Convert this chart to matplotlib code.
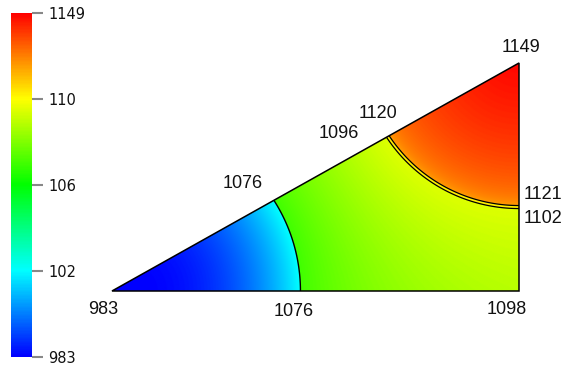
import numpy as np
import matplotlib
matplotlib.use("Agg")
import matplotlib.pyplot as plt
from matplotlib.colors import LinearSegmentedColormap, Normalize
from matplotlib.patches import Polygon

# colour scale
cmap_colors = ['#0000ff', '#00ffff', '#00ff00', '#ffff00', '#ff0000']
vmin, vmax = 983, 1149
cbar_ticks = [983, 1024.5, 1066, 1107.5, 1149]
cbar_labels = ['983', '102', '106', '110', '1149']

# triangle (units: bottom edge = 1)
H = 0.56
tri_verts = [(0, 0), (1, 0), (1, H)]

# field anchors
low_val, low_edge = 983, 1025          # blue zone: corner -> cyan edge
mid_lo, mid_hi = 1076, 1102            # green/yellow zone
high_lo, high_val = 1121, 1149         # orange/red zone
c1, R1 = (0.05, 0.0), 0.413            # 1076 contour (arc)
c2, R2, gap = (1.0, H + 0.0325), 0.3826, 0.0074   # 1102/1121 double contour

cmap = LinearSegmentedColormap.from_list('rb', cmap_colors)
norm = Normalize(vmin, vmax)

x = np.linspace(0, 1, 1400)
y = np.linspace(0, H, 800)
X, Y = np.meshgrid(x, y)
d1 = np.hypot(X - c1[0], Y - c1[1])
d2 = np.hypot(X - c2[0], Y - c2[1])

a = np.clip(d1 - R1, 1e-6, None)
b = np.clip(d2 - R2 - gap, 1e-6, None)
zA = low_val + (low_edge - low_val) * (np.clip(d1 / R1, 0, 1)) ** 2.2
zB = mid_lo + (mid_hi - mid_lo) * (a / (a + b)) ** 0.85
zC = high_lo + (high_val - high_lo) * np.clip(1 - d2 / R2, 0, 1) ** 0.45
Z = np.select([d1 < R1, d2 < R2, d2 < R2 + gap], [zA, zC, 1110], zB)

fig = plt.figure(figsize=(5.66, 3.65), dpi=100)
ax = fig.add_axes([112/566, 74/365, 407/566, 228/365])
ax.set_xlim(0, 1)
ax.set_ylim(0, H)
ax.axis('off')

clip = Polygon(tri_verts, closed=True, transform=ax.transData)
im = ax.imshow(Z, extent=[0, 1, 0, H], origin='lower', cmap=cmap, norm=norm,
               interpolation='bilinear', aspect='auto')
im.set_clip_path(clip)

cs1 = ax.contour(X, Y, d1, levels=[R1], colors='black', linewidths=1)
cs1.set_clip_path(clip)
cs2 = ax.contour(X, Y, d2, levels=[R2, R2 + gap], colors='black', linewidths=0.9)
cs2.set_clip_path(clip)

ax.add_patch(Polygon(tri_verts, closed=True, fill=False, edgecolor='black',
                     linewidth=1.1, clip_on=False))

# where contours meet the edges
u = np.array([1, H]) / np.hypot(1, H)
uc = u @ np.array(c1)
s1 = uc + np.sqrt(uc**2 - np.dot(c1, c1) + R1**2)
hyp1 = s1 * u
uc2 = u @ np.array(c2)
s2 = uc2 - np.sqrt(uc2**2 - np.dot(c2, c2) + (R2 + gap)**2)
hyp2 = s2 * u
bot1 = (c1[0] + R1, 0)
right2 = (1, c2[1] - R2 - gap / 2)

labels = [
    ('983', (0, 0), (-9, -18)),
    ('1076', bot1, (-7, -21)),
    ('1098', (1, 0), (-12, -19)),
    ('1149', (1, H), (2, 16)),
    ('1076', hyp1, (-31, 17)),
    ('1096', hyp2, (-48, 4)),
    ('1120', hyp2, (-9, 24)),
    ('1121', right2, (24, 13)),
    ('1102', right2, (24, -11)),
]
for txt, xy, off in labels:
    ax.annotate(txt, xy=xy, xytext=off, textcoords='offset pixels',
                ha='center', va='center', fontsize=13, color='#111111',
                family='Liberation Sans', annotation_clip=False)

cax = fig.add_axes([11/566, 8.3/365, 21.3/566, 344/365])
cb = fig.colorbar(im, cax=cax, ticks=cbar_ticks)
cb.set_ticklabels(cbar_labels)
cb.outline.set_visible(False)
cax.tick_params(length=8, width=1.5, color='#888888', pad=3.5,
                labelsize=10.5, labelcolor='#111111')

fig.savefig('out.png', dpi=100)
